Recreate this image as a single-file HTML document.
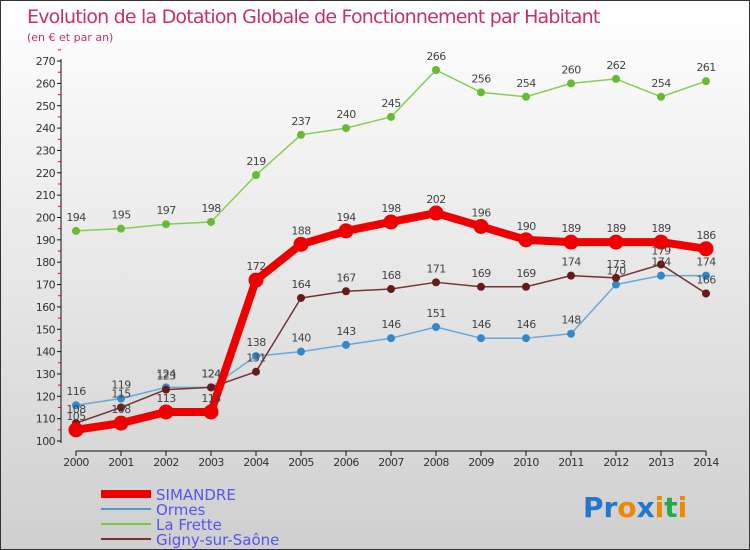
<!DOCTYPE html>
<html><head><meta charset="utf-8"><style>
body{margin:0}
#c{position:relative;width:750px;height:550px;background:linear-gradient(#ffffff,#cfcfcf);box-sizing:border-box;border:1px solid #333;font-family:"DejaVu Sans","Liberation Sans",sans-serif;overflow:hidden}
</style></head><body>
<div id="c">
<svg width="750" height="550" style="position:absolute;left:0;top:0">
<text x="26" y="22" font-size="19" fill="#c8306a" font-family="DejaVu Sans" style="letter-spacing:-0.8px">Evolution de la Dotation Globale de Fonctionnement par Habitant</text>
<text x="26" y="40" font-size="11" fill="#c8306a">(en € et par an)</text>
<g id="axes"></g><g id="series"></g><g id="labels"></g>
<g>
<line x1="100" y1="493" x2="150" y2="493" stroke="#ee0000" stroke-width="8"/>
<text x="155" y="499" font-size="15" fill="#5555ee">SIMANDRE</text>
<line x1="100" y1="508" x2="150" y2="508" stroke="#5599cc" stroke-width="2"/>
<text x="155" y="514" font-size="15" fill="#5555ee">Ormes</text>
<line x1="100" y1="523" x2="150" y2="523" stroke="#77cc44" stroke-width="2"/>
<text x="155" y="529" font-size="15" fill="#5555ee">La Frette</text>
<line x1="100" y1="538" x2="150" y2="538" stroke="#773333" stroke-width="2"/>
<text x="155" y="544" font-size="15" fill="#5555ee">Gigny-sur-Saône</text>
</g>
<text x="582" y="516" font-size="28" font-weight="bold"><tspan fill="#2277cc">Pr</tspan><tspan fill="#ee8800">o</tspan><tspan fill="#2277cc">x</tspan><tspan fill="#ee8800">i</tspan><tspan fill="#22aa44">t</tspan><tspan fill="#ee8800">i</tspan></text>
</svg>
</div>
<script>
const years=["2000","2001","2002","2003","2004","2005","2006","2007","2008","2009","2010","2011","2012","2013","2014"];
const simandre=[105,108,113,113,172,188,194,198,202,196,190,189,189,189,186];
const ormes=[116,119,124,124,138,140,143,146,151,146,146,148,170,174,174];
const laFrette=[194,195,197,198,219,237,240,245,266,256,254,260,262,254,261];
const gigny=[108,115,123,124,131,164,167,168,171,169,169,174,173,179,166];
const yTicks=[100,110,120,130,140,150,160,170,180,190,200,210,220,230,240,250,260,270];
const NS="http://www.w3.org/2000/svg";
const X=i=>75+i*45;
const Y=v=>440-(v-100)*2.235;
function mk(t,a,p){const e=document.createElementNS(NS,t);for(const k in a)e.setAttribute(k,a[k]);p.appendChild(e);return e;}
const ax=document.getElementById('axes');
let l=mk('line',{x1:60,y1:58,x2:60,y2:442,stroke:'#111','stroke-width':1},ax);


l=mk('line',{x1:75,y1:450,x2:705,y2:450,stroke:'#111','stroke-width':1},ax);


yTicks.forEach(v=>{
 mk('line',{x1:56,y1:Y(v),x2:60,y2:Y(v),stroke:'#111'},ax);
 mk('line',{x1:57,y1:Y(v+5),x2:60,y2:Y(v+5),stroke:'#e00'},ax);
 const t=mk('text',{x:54,y:Y(v)+4,'font-size':11,fill:'#333','text-anchor':'end','letter-spacing':'-0.6'},ax);
 t.textContent=v;
 
 
});
years.forEach((y,i)=>{
 mk('line',{x1:X(i),y1:450,x2:X(i),y2:455,stroke:'#111'},ax);
 const t=mk('text',{x:X(i),y:465,'font-size':11,fill:'#333','text-anchor':'middle','letter-spacing':'-0.6'},ax);
 t.textContent=y;
 
 
});
const sg=document.getElementById('series'),lg=document.getElementById('labels');
function draw(d,name,col,w,r,lc){
 const g=mk('g',{},sg);
 
 
 const p=mk('polyline',{points:d.map((v,i)=>X(i)+','+Y(v)).join(' '),fill:'none',stroke:col,'stroke-width':w,'stroke-linejoin':'round'},g);
 
 
 d.forEach((v,i)=>{
  const c=mk('circle',{cx:X(i),cy:Y(v),r:r,fill:lc||col},g);
  
  
  const t=mk('text',{x:X(i),y:Y(v)-10,'font-size':11,fill:'#444','text-anchor':'middle','letter-spacing':'-0.6'},lg);
  t.textContent=v;
  
  
 });
}
draw(laFrette,'la-frette','#88cc55',1.5,4,'#66bb33');
draw(ormes,'ormes','#66aadd',1.5,4,'#3388cc');
draw(gigny,'gigny','#773333',1.5,4,'#661a1a');
draw(simandre,'simandre','#ee0000',8,7.5,'#ee0000');
</script>
</body></html>
